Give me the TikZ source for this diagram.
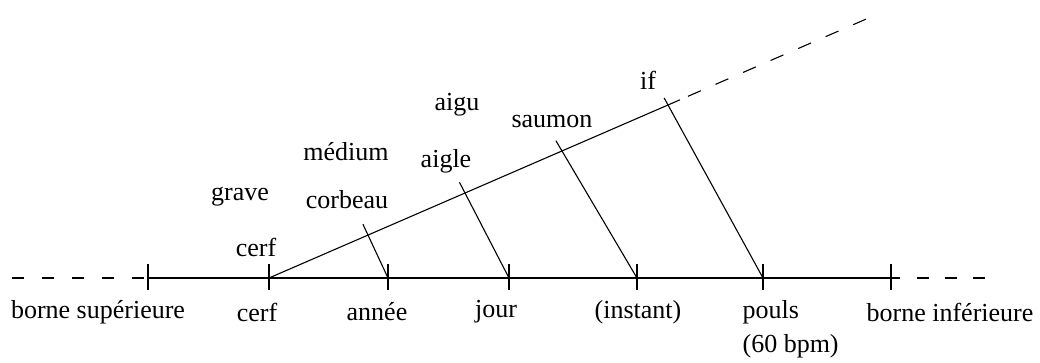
\documentclass[tikz,border=0pt]{standalone}
\usepackage{fontspec}
\setmainfont{Liberation Serif}
\usetikzlibrary{calc}
\begin{document}
\begin{tikzpicture}[x=0.5pt,y=-0.5pt,line width=0.6pt,
  lbl/.style={inner sep=0pt,font=\fontsize{13}{15}\selectfont},
  dashline/.style={dash pattern=on 6pt off 9pt},
  dashright/.style={dash pattern=on 6pt off 8pt},
  tickmark/.style={line width=0.6pt},
  perp/.style={line width=0.55pt}]
\useasboundingbox (0,0) rectangle (1040,363);
% axis coordinates
\coordinate (L) at (12,278);
\coordinate (t1) at (148,278);
\coordinate (t2) at (269,278);
\coordinate (t3) at (388,278);
\coordinate (t4) at (509,278);
\coordinate (t5) at (637,278);
\coordinate (t6) at (763,278);
\coordinate (t7) at (891,278);
\coordinate (Rs) at (900,278);
\coordinate (R0) at (917,278);
\coordinate (R1) at (987,278);
% diagonal coordinates
\coordinate (d1) at (368,235.1);
\coordinate (d2) at (465,193.0);
\coordinate (d3) at (562,151.0);
\coordinate (d4) at (668,105.0);
\coordinate (dE) at (680,99.8);
\coordinate (dD0) at (688,96.3);
\coordinate (dD1) at (870,17.4);
% main axis
\draw[dashline] (L) -- (t1);
\draw (t1) -- (Rs);
\draw[dashright] (R0) -- (R1);
\foreach \t in {t1,t2,t3,t4,t5,t6,t7}
  \draw[tickmark] ($(\t)+(0,-14)$) -- ($(\t)+(0,12)$);
% diagonal
\draw[perp] (t2) -- (dE);
\draw[perp,dash pattern=on 7pt off 8pt] (dD0) -- (dD1);
% connectors
\draw[perp] (t3) -- ($(d1)!-6pt!(t3)$);
\draw[perp] (t4) -- ($(d2)!-6pt!(t4)$);
\draw[perp] (t5) -- ($(d3)!-6pt!(t5)$);
\draw[perp] (t6) -- ($(d4)!-4pt!(t6)$);
% labels below
\node[lbl] (bs) at (98,312) {borne supérieure};
\node[lbl] (c1) at (257,312) {cerf};
\node[lbl] (an) at (377,312) {année};
\node[lbl] (jo) at (496,312) {jour};
\node[lbl] (in) at (638,312) {(instant)};
\node[lbl,anchor=west] (po) at (742,312) {pouls};
\node[lbl,anchor=west] (bpm) at (742,346) {(60 bpm)};
\node[lbl] (bi) at (950,312) {borne inférieure};
% labels above
\node[lbl] (c2) at (256,247) {cerf};
\node[lbl] (gr) at (240,197) {grave};
\node[lbl] (me) at (346,152) {médium};
\node[lbl] (co) at (347,200) {corbeau};
\node[lbl] (ai) at (457,105) {aigu};
\node[lbl] (ag) at (446,161) {aigle};
\node[lbl] (sa) at (552,122) {saumon};
\node[lbl] (if) at (648,80) {if};
\end{tikzpicture}
\end{document}
